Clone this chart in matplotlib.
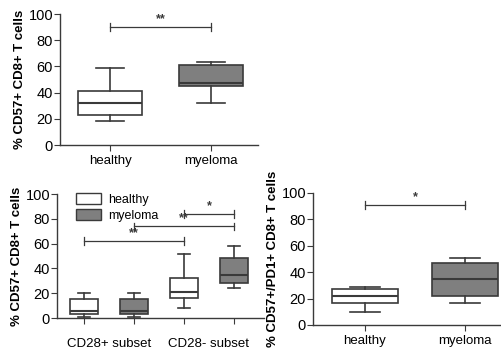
import matplotlib
matplotlib.use("Agg")
import matplotlib.pyplot as plt
from matplotlib.patches import Patch

plt.rcParams.update({
    "font.family": ["Liberation Sans", "DejaVu Sans"],
    "font.size": 9,
    "axes.linewidth": 1.0,
})

# ── Data ────────────────────────────────────────────────────
# each box: (whislo, q1, med, q3, whishi)
TOP_GROUPS = ["healthy", "myeloma"]
TOP_HEALTHY = [18, 23, 32, 41, 59]
TOP_MYELOMA = [32, 45, 47, 61, 63]

SUB_GROUPS = ["CD28+ subset", "CD28- subset"]
SUB_HEALTHY = [[1, 3, 6, 15, 20], [8, 16, 21, 32, 52]]
SUB_MYELOMA = [[1, 3, 6, 15, 20], [24, 28, 35, 48, 58]]

PD1_GROUPS = ["healthy", "myeloma"]
PD1_HEALTHY = [10, 17, 22, 27, 29]
PD1_MYELOMA = [17, 22, 35, 47, 51]

LINE = "#3a3a3a"
GREY = "#7f7f7f"
W, H = 502, 351


def stats(v):
    lo, q1, med, q3, hi = v
    return dict(whislo=lo, q1=q1, med=med, q3=q3, whishi=hi, fliers=[])


def px_axes(fig, x0, y0, x1, y1):
    # pixel box (x0 left, y0 = y of value 0, x1 right, y1 = y of value 100)
    return fig.add_axes([x0 / W, (H - y0) / H, (x1 - x0) / W, (y0 - y1) / H])


def boxes(ax, vals, pos, width, fills):
    art = ax.bxp([stats(v) for v in vals], positions=pos, widths=width,
                 patch_artist=True, showfliers=False, manage_ticks=False,
                 boxprops=dict(edgecolor=LINE, linewidth=1.2),
                 medianprops=dict(color=LINE, linewidth=1.5),
                 whiskerprops=dict(color=LINE, linewidth=1.2),
                 capprops=dict(color=LINE, linewidth=1.2),
                 capwidths=width * 0.45)
    for b, f in zip(art["boxes"], fills):
        b.set_facecolor(f)


def sig(ax, x1, x2, y, text, tick=3):
    ax.plot([x1, x2], [y, y], color=LINE, lw=0.9, clip_on=False)
    for x in (x1, x2):
        ax.plot([x, x], [y - tick, y + tick], color=LINE, lw=0.9, clip_on=False)
    ax.text((x1 + x2) / 2, y + 1.5, text, ha="center", va="bottom",
            fontsize=9, color=LINE, fontweight="bold")


def style(ax, ylabel):
    for s in ("top", "right"):
        ax.spines[s].set_visible(False)
    for s in ("left", "bottom"):
        ax.spines[s].set_color(LINE)
    ax.set_ylim(0, 100)
    ax.set_yticks([0, 20, 40, 60, 80, 100])
    ax.tick_params(axis="y", labelsize=10.5, length=4, color=LINE, pad=1)
    ax.tick_params(axis="x", labelsize=9.5, length=4, color=LINE, pad=3)
    ax.set_ylabel(ylabel, fontsize=9.5, fontweight="bold", labelpad=2)


fig = plt.figure(figsize=(W / 100, H / 100), dpi=100)

# ── Top panel ───────────────────────────────────────────────
ax1 = px_axes(fig, 60, 145, 258, 14)
boxes(ax1, [TOP_HEALTHY, TOP_MYELOMA], [1, 2], 0.63, ["white", GREY])
ax1.set_xlim(0.505, 2.465)
ax1.set_xticks([1, 2])
ax1.set_xticklabels(TOP_GROUPS)
style(ax1, "% CD57+ CD8+ T cells")
sig(ax1, 1, 2, 90, "**")

# ── Bottom left panel ───────────────────────────────────────
ax2 = px_axes(fig, 57, 318, 264, 194)
vals = [SUB_HEALTHY[0], SUB_MYELOMA[0], SUB_HEALTHY[1], SUB_MYELOMA[1]]
boxes(ax2, vals, [1, 2, 3, 4], 0.56, ["white", GREY, "white", GREY])
ax2.set_xlim(0.46, 4.6)
ax2.set_xticks([1, 2, 3, 4])
ax2.set_xticklabels([])
for i, g in enumerate(SUB_GROUPS):
    ax2.text(1.5 + 2 * i, -0.16, g, transform=ax2.get_xaxis_transform(),
             ha="center", va="top", fontsize=9.5)
style(ax2, "% CD57+ CD8+ T cells")
sig(ax2, 1, 3, 62, "**")
sig(ax2, 2, 4, 74, "**")
sig(ax2, 3, 4, 84, "*")
ax2.legend(handles=[Patch(facecolor="white", edgecolor=LINE, label="healthy"),
                    Patch(facecolor=GREY, edgecolor=LINE, label="myeloma")],
           loc="upper left", bbox_to_anchor=(0.07, 1.05), frameon=False,
           fontsize=9, handlelength=2.0, handleheight=1.0,
           handletextpad=0.5, labelspacing=0.25, borderaxespad=0)

# ── Bottom right panel ──────────────────────────────────────
ax3 = px_axes(fig, 313, 325, 500, 193)
boxes(ax3, [PD1_HEALTHY, PD1_MYELOMA], [1, 2], 0.66, ["white", GREY])
ax3.set_xlim(0.48, 2.35)
ax3.set_xticks([1, 2])
ax3.set_xticklabels(PD1_GROUPS)
style(ax3, "% CD57+/PD1+ CD8+ T cells")
sig(ax3, 1, 2, 91, "*")

fig.savefig("out.png", dpi=100)
